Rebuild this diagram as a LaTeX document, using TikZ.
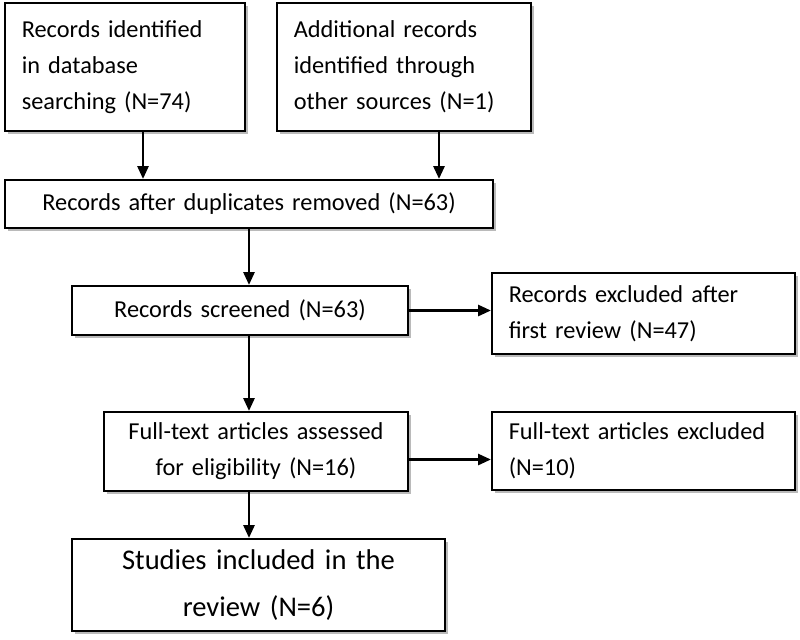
\documentclass[tikz,border=0pt]{standalone}
\usepackage{fontspec}
\setmainfont{Carlito}
\usetikzlibrary{arrows.meta,shadows}

\begin{document}
\begin{tikzpicture}[x=0.025cm, y=-0.025cm, >={Triangle[length=0.32cm,width=0.28cm]},
    box/.style={draw, line width=1.6pt, fill=white, inner xsep=0.42cm, inner ysep=0pt,
        drop shadow={shadow xshift=0.07cm, shadow yshift=-0.07cm, fill=black!45, opacity=0.6},
        font=\fontsize{17.3}{25.6}\selectfont},
    link/.style={->, line width=1.5pt}]
        \useasboundingbox (0,0) rectangle (800,639);
        \node[box, text width=5.16cm, minimum height=3.2cm, align=left] (a) at (125,67) {Records identified\\in database\\searching (N=74)};
        \node[box, text width=5.51cm, minimum height=3.2cm, align=left] (b) at (404,67) {Additional records\\identified through\\other sources (N=1)};
        \node[box, text width=11.36cm, minimum height=1.2cm, align=center] (c) at (249,204) {Records after duplicates removed (N=63)};
        \node[box, text width=7.56cm, minimum height=1.225cm, align=center] (d) at (240,310.5) {Records screened (N=63)};
        \node[box, text width=6.735cm, minimum height=2.025cm, align=left] (e) at (643.5,313.5) {Records excluded after\\first review (N=47)};
        \node[box, text width=6.76cm, minimum height=1.975cm, align=center] (f) at (256,451.5) {Full-text articles assessed\\for eligibility (N=16)};
        \node[box, text width=6.735cm, minimum height=1.95cm, align=left] (g) at (643.5,451) {Full-text articles excluded\\(N=10)};
        \node[box, text width=8.485cm, minimum height=2.3cm, align=center, font=\fontsize{20.3}{34}\selectfont] (h) at (258.5,585) {Studies included in the\\review (N=6)};
        \draw[link] ([xshift=0.45cm]a.south) -- ([xshift=0.45cm]a.south |- c.north);
        \draw[link] ([xshift=0.875cm]b.south) -- ([xshift=0.875cm]b.south |- c.north);
        \draw[link] (c.south) -- (c.south |- d.north);
        \draw[link] (d.south -| c.south) -- (f.north -| c.south);
        \draw[link] (f.south -| c.south) -- (h.north -| c.south);
        \draw[link] (d.east) -- (e.west |- d.east);
        \draw[link] ([yshift=-0.2cm]f.east) -- ([yshift=-0.2cm]f.east -| g.west);
    \end{tikzpicture}
\end{document}
